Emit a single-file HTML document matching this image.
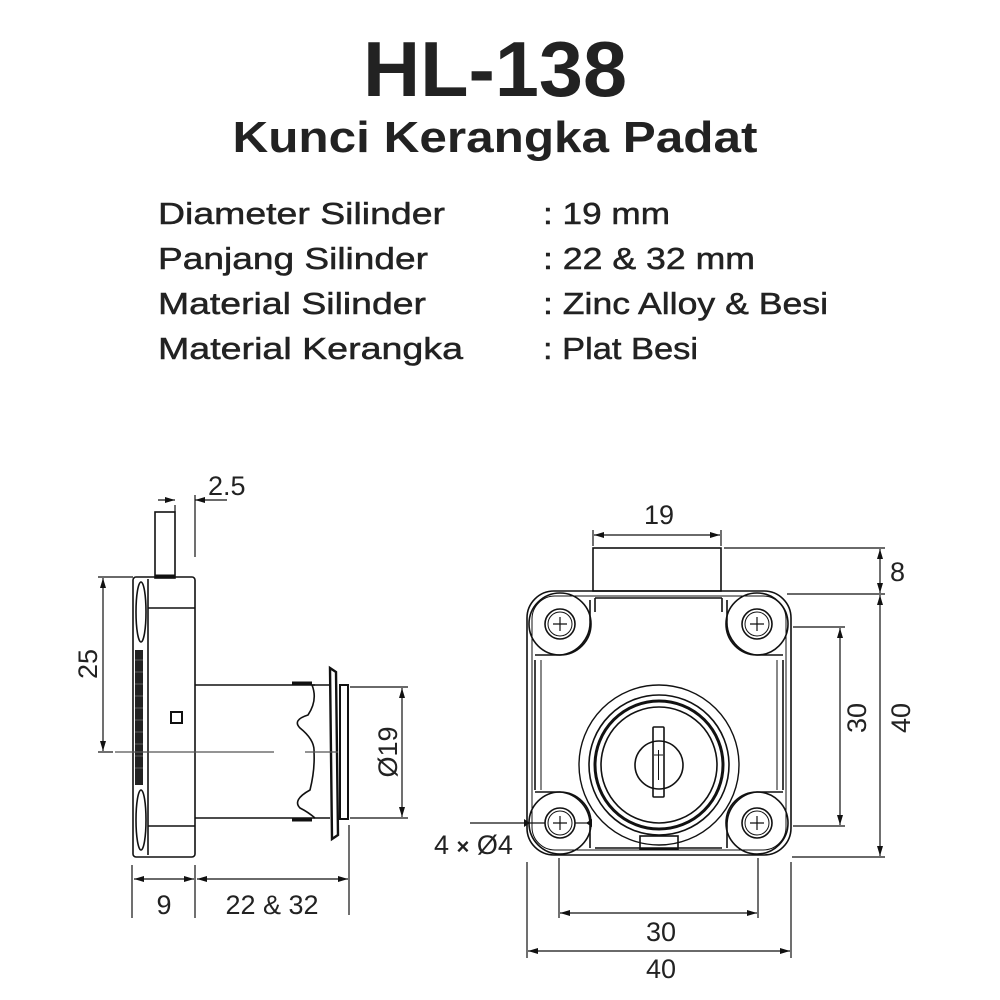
<!DOCTYPE html>
<html><head><meta charset="utf-8"><style>
html,body{margin:0;padding:0;background:#fff;}
svg{display:block;}
text{font-family:"Liberation Sans",sans-serif;fill:#222;}
</style></head><body>
<svg width="1000" height="1000" viewBox="0 0 1000 1000" xmlns="http://www.w3.org/2000/svg">
<defs>
<marker id="a" viewBox="0 0 10 6" refX="10" refY="3" markerWidth="10" markerHeight="6" orient="auto-start-reverse" markerUnits="userSpaceOnUse"><path d="M0,0 L10,3 L0,6 z" fill="#111"/></marker>
</defs>
<text x="495" y="96" font-size="78" font-weight="bold" text-anchor="middle" textLength="264" lengthAdjust="spacingAndGlyphs">HL-138</text>
<text x="495" y="152" font-size="44" font-weight="bold" text-anchor="middle" textLength="525" lengthAdjust="spacingAndGlyphs">Kunci Kerangka Padat</text>
<g font-size="31" stroke="#222" stroke-width="0.5">
<text x="158" y="224" textLength="287" lengthAdjust="spacingAndGlyphs">Diameter Silinder</text>
<text x="158" y="269" textLength="270" lengthAdjust="spacingAndGlyphs">Panjang Silinder</text>
<text x="158" y="314" textLength="268" lengthAdjust="spacingAndGlyphs">Material Silinder</text>
<text x="158" y="359" textLength="305" lengthAdjust="spacingAndGlyphs">Material Kerangka</text>
<text x="543" y="224" textLength="127" lengthAdjust="spacingAndGlyphs">: 19 mm</text>
<text x="543" y="269" textLength="212" lengthAdjust="spacingAndGlyphs">: 22 &amp; 32 mm</text>
<text x="543" y="314" textLength="285" lengthAdjust="spacingAndGlyphs">: Zinc Alloy &amp; Besi</text>
<text x="543" y="359" textLength="155" lengthAdjust="spacingAndGlyphs">: Plat Besi</text>
</g>

<!-- LEFT SIDE VIEW -->
<g fill="none" stroke="#111" stroke-width="1.6">
<rect x="155" y="512" width="20" height="66"/>
<line x1="155" y1="576" x2="175" y2="576" stroke-width="3"/>
<rect x="133" y="577" width="62" height="280" rx="3"/>
<line x1="148" y1="579" x2="148" y2="855"/>
<line x1="148" y1="608" x2="195" y2="608"/>
<line x1="148" y1="826" x2="195" y2="826"/>
<ellipse cx="141" cy="612" rx="5" ry="30"/>
<ellipse cx="141" cy="820" rx="5" ry="30"/>
<rect x="171" y="712" width="11" height="11" stroke-width="2"/>
<line x1="195" y1="685" x2="315" y2="685"/>
<line x1="195" y1="818" x2="315" y2="818"/>
<line x1="292" y1="683" x2="312" y2="683" stroke-width="3"/>
<line x1="292" y1="820" x2="312" y2="820" stroke-width="3"/>
<path d="M312,685 Q318,700 308,715 Q292,720 300,728 Q315,740 314,752 Q315,770 310,790 Q292,800 300,808 Q308,812 315,818 L330,818"/>
<path d="M312,685 L330,685"/>
<path d="M330,668 L336,672 L338,835 L332,839 Z" stroke-width="2.4"/>
<rect x="340" y="685" width="8" height="134" stroke-width="2"/>
</g>
<path d="M135,650 L143,650 L143,785 L135,785 Z" fill="#222"/>
<g stroke="#888" stroke-width="0.6">
<line x1="135" y1="660" x2="143" y2="660"/><line x1="135" y1="672" x2="143" y2="672"/><line x1="135" y1="684" x2="143" y2="684"/><line x1="135" y1="696" x2="143" y2="696"/><line x1="135" y1="708" x2="143" y2="708"/><line x1="135" y1="720" x2="143" y2="720"/><line x1="135" y1="732" x2="143" y2="732"/><line x1="135" y1="744" x2="143" y2="744"/><line x1="135" y1="756" x2="143" y2="756"/><line x1="135" y1="768" x2="143" y2="768"/>
</g>
<g stroke="#555" stroke-width="1.3">
<line x1="115" y1="752" x2="274" y2="752"/>
<line x1="305" y1="752" x2="338" y2="752"/>
</g>
<!-- left dims -->
<g stroke="#111" stroke-width="1.2" fill="none">
<line x1="175" y1="505" x2="175" y2="512"/>
<line x1="195" y1="495" x2="195" y2="557"/>
<line x1="158" y1="500" x2="175" y2="500" marker-end="url(#a)"/>
<line x1="227" y1="500" x2="195" y2="500" marker-end="url(#a)"/>
<line x1="98" y1="577" x2="133" y2="577"/>
<line x1="98" y1="752" x2="113" y2="752"/>
<line x1="103" y1="578" x2="103" y2="751" marker-start="url(#a)" marker-end="url(#a)"/>
<line x1="350" y1="687" x2="408" y2="687"/>
<line x1="350" y1="818" x2="408" y2="818"/>
<line x1="402" y1="688" x2="402" y2="817" marker-start="url(#a)" marker-end="url(#a)"/>
<line x1="132" y1="865" x2="132" y2="918"/>
<line x1="195" y1="865" x2="195" y2="918"/>
<line x1="349" y1="825" x2="349" y2="915"/>
<line x1="134" y1="879" x2="194" y2="879" marker-start="url(#a)" marker-end="url(#a)"/>
<line x1="197" y1="879" x2="348" y2="879" marker-start="url(#a)" marker-end="url(#a)"/>
</g>
<g font-size="27">
<text x="208" y="495">2.5</text>
<text transform="translate(97,664) rotate(-90)" text-anchor="middle">25</text>
<text transform="translate(397,752) rotate(-90)" text-anchor="middle">Ø19</text>
<text x="164" y="914" text-anchor="middle">9</text>
<text x="272" y="914" text-anchor="middle">22 &amp; 32</text>
</g>

<!-- RIGHT FRONT VIEW -->
<g fill="none" stroke="#111" stroke-width="1.6">
<rect x="593" y="548" width="128" height="43"/>
<rect x="527" y="591" width="264" height="264" rx="27"/>
<rect x="532" y="596" width="254" height="254" rx="23" stroke-width="1"/>
<line x1="595" y1="598" x2="722" y2="598"/>
<line x1="595" y1="598" x2="595" y2="612"/>
<line x1="722" y1="598" x2="722" y2="612"/>
<line x1="535" y1="660" x2="535" y2="790"/>
<line x1="783" y1="660" x2="783" y2="790"/>
<line x1="541" y1="660" x2="541" y2="790" stroke-width="1"/>
<line x1="777" y1="660" x2="777" y2="790" stroke-width="1"/>
<line x1="535" y1="655" x2="560" y2="655"/>
<line x1="757" y1="655" x2="783" y2="655"/>
<line x1="535" y1="792" x2="560" y2="792"/>
<line x1="757" y1="792" x2="783" y2="792"/>
<line x1="595" y1="848" x2="722" y2="848"/>
<rect x="640" y="836" width="38" height="13"/>
<path d="M590,600 L590,620 A33,33 0 0 1 560,655" />
<path d="M727,600 L727,620 A33,33 0 0 0 757,655" />
<path d="M590,848 L590,826 A33,33 0 0 0 560,792" />
<path d="M727,848 L727,826 A33,33 0 0 1 757,792" />
<circle cx="560" cy="624" r="31"/><circle cx="757" cy="624" r="31"/>
<circle cx="560" cy="823" r="31"/><circle cx="757" cy="823" r="31"/>
<circle cx="560" cy="624" r="15"/><circle cx="757" cy="624" r="15"/>
<circle cx="560" cy="823" r="15"/><circle cx="757" cy="823" r="15"/>
<circle cx="560" cy="624" r="12" stroke-width="1"/><circle cx="757" cy="624" r="12" stroke-width="1"/>
<circle cx="560" cy="823" r="12" stroke-width="1"/><circle cx="757" cy="823" r="12" stroke-width="1"/>
<path d="M553,624h14M560,617v14M750,624h14M757,617v14M553,823h14M560,816v14M750,823h14M757,816v14" stroke-width="1.2"/>
<circle cx="659" cy="765" r="80" stroke-width="1.4"/>
<circle cx="659" cy="765" r="70" stroke-width="1.6"/>
<circle cx="659" cy="765" r="64" stroke-width="3"/>
<circle cx="659" cy="765" r="58" stroke-width="1.6"/>
<circle cx="659" cy="765" r="24"/>
<rect x="653" y="727" width="11" height="70" rx="1" stroke-width="1.6"/>
<path d="M654,755h9M658.5,750v30" stroke-width="1"/>
</g>
<!-- right dims -->
<g stroke="#111" stroke-width="1.2" fill="none">
<line x1="593" y1="530" x2="593" y2="546"/>
<line x1="721" y1="530" x2="721" y2="546"/>
<line x1="594" y1="535" x2="720" y2="535" marker-start="url(#a)" marker-end="url(#a)"/>
<line x1="724" y1="548" x2="885" y2="548"/>
<line x1="787" y1="594" x2="885" y2="594"/>
<line x1="880" y1="549" x2="880" y2="593" marker-start="url(#a)" marker-end="url(#a)"/>
<line x1="880" y1="595" x2="880" y2="856" marker-start="url(#a)" marker-end="url(#a)"/>
<line x1="792" y1="857" x2="885" y2="857"/>
<line x1="793" y1="627" x2="845" y2="627"/>
<line x1="793" y1="826" x2="845" y2="826"/>
<line x1="840" y1="628" x2="840" y2="825" marker-start="url(#a)" marker-end="url(#a)"/>
<line x1="527" y1="862" x2="527" y2="958"/>
<line x1="791" y1="862" x2="791" y2="958"/>
<line x1="559" y1="858" x2="559" y2="918"/>
<line x1="758" y1="858" x2="758" y2="918"/>
<line x1="560" y1="913" x2="757" y2="913" marker-start="url(#a)" marker-end="url(#a)"/>
<line x1="528" y1="951" x2="790" y2="951" marker-start="url(#a)" marker-end="url(#a)"/>
<line x1="470" y1="823" x2="545" y2="823"/>
<line x1="575" y1="823" x2="590" y2="823"/>
</g>
<path d="M524,819 L530,823 L524,827 Z M592,819 L586,823 L592,827 Z" fill="#111"/>
<g font-size="27">
<text x="659" y="524" text-anchor="middle">19</text>
<text x="890" y="581">8</text>
<text transform="translate(866,718) rotate(-90)" text-anchor="middle">30</text>
<text transform="translate(910,718) rotate(-90)" text-anchor="middle">40</text>
<text x="661" y="941" text-anchor="middle">30</text>
<text x="661" y="978" text-anchor="middle">40</text>
<text x="434" y="854">4 <tspan font-size="22" font-weight="bold">×</tspan> Ø4</text>
</g>
</svg>
</body></html>
